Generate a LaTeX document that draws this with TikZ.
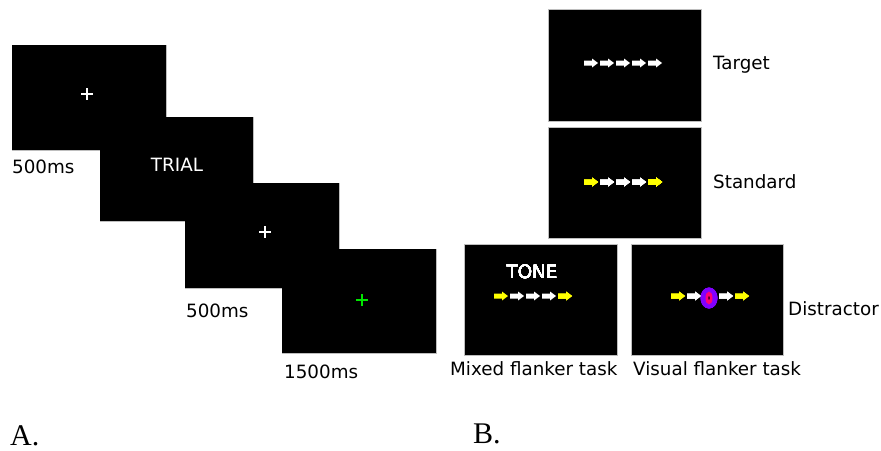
\documentclass[tikz,border=0pt]{standalone}
\usepackage{fontspec}
\setmainfont{DejaVu Sans}
\newfontfamily\serifA{Liberation Serif}
\definecolor{edgegray}{RGB}{190,190,190}
\definecolor{flyellow}{RGB}{255,255,0}
\definecolor{crossgreen}{RGB}{0,230,0}
\definecolor{distviolet}{RGB}{130,0,255}
\definecolor{distpink}{RGB}{255,0,120}
\newcommand\flarrow[3]{\fill[#3] (#1,#2) ++(-7,-2.5) -- ++(8,0) -- ++(0,-2) -- ++(6,4.5) -- ++(-6,4.5) -- ++(0,-2) -- ++(-8,0) -- cycle;}
\begin{document}
\begin{tikzpicture}[x=1pt,y=-1pt,
  screenedge/.style={draw=edgegray,line width=1pt},
  screenfill/.style={fill=black},
  lbl/.style={font=\fontsize{18.3}{21}\selectfont,inner sep=0pt,anchor=base west},
  wlbl/.style={font=\fontsize{18.3}{21}\selectfont,inner sep=0pt,anchor=base,text=white},
  letter/.style={font=\serifA\fontsize{30}{34}\selectfont,inner sep=0pt,anchor=base west},
  crossmark/.style={line width=1.3pt}]
\useasboundingbox (0,0) rectangle (881,450);
% Part A screens: edges first, then fills
\foreach \a/\b/\c/\d in {12/45/166/150,100/117/253/221,185/183/339/288,282/249/436/353}
  \draw[screenedge] (\a,\b) rectangle (\c,\d);
\foreach \a/\b/\c/\d in {12/45/166/150,100/117/253/221,185/183/339/288,282/249/436/353}
  \fill[screenfill] (\a,\b) rectangle (\c,\d);
% crosses
\draw[crossmark,white] (81,94) -- (93,94) (87,88) -- (87,100);
\draw[crossmark,white] (259,232) -- (271,232) (265,226) -- (265,238);
\draw[crossmark,crossgreen] (356,300) -- (368,300) (362,294) -- (362,306);
\node[wlbl] (trial) at (177,171) {TRIAL};
\node[lbl] (t1) at (12,173) {500ms};
\node[lbl] (t2) at (186,317) {500ms};
\node[lbl] (t3) at (284,378) {1500ms};
\node[letter] (la) at (10,445) {A.};
% Part B screens
\foreach \a/\b/\c/\d in {548/9/701/121,548/127/701/238,464/244/617/355,631/244/783/355}
  \filldraw[screenedge,screenfill] (\a,\b) rectangle (\c,\d);
% Target
\foreach \x in {591,607,623,639,655} \flarrow{\x}{63}{white}
% Standard
\flarrow{591}{182}{flyellow}
\foreach \x in {607,623,639} \flarrow{\x}{182}{white}
\flarrow{655}{182}{flyellow}
% Mixed
\node[wlbl] (tone) at (532,278) {TONE};
\flarrow{501}{296}{flyellow}
\foreach \x in {517,533,549} \flarrow{\x}{296}{white}
\flarrow{565}{296}{flyellow}
% Visual
\flarrow{678}{296}{flyellow}
\flarrow{694}{296}{white}
\flarrow{726}{296}{white}
\flarrow{742}{296}{flyellow}
\fill[distviolet] (709,298) ellipse [x radius=8.5, y radius=10.5];
\fill[distpink] (709,298) ellipse [x radius=3.5, y radius=6.5];
\fill[black] (709,298) ellipse [x radius=0.6, y radius=2];
% labels
\node[lbl] (ltarget) at (713,69) {Target};
\node[lbl] (lstd) at (713,188) {Standard};
\node[lbl] (ldist) at (788,315) {Distractor};
\node[lbl] (lmixed) at (450,375) {Mixed flanker task};
\node[lbl] (lvis) at (633,375) {Visual flanker task};
\node[letter] (lb) at (473,443) {B.};
\end{tikzpicture}
\end{document}
